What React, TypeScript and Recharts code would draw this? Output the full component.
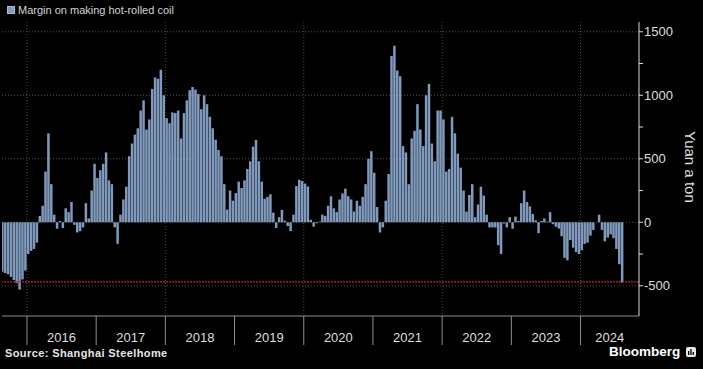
import { BarChart, Bar, XAxis, YAxis, CartesianGrid, ReferenceLine } from "recharts";

// Margin on making hot-rolled coil, yuan a ton, two readings a month
const margin2015 = [-390, -400, -410, -430, -455, -480, -530, -450, -380];
const margin2016 = [
  -250, -225, -210, -160, 50, 130, 400, 700, 300, 60, -50, 10,
  -45, 110, 80, 160, -20, -80, -70, -40, 150, 30, 250, 460,
];
const margin2017 = [
  350, 410, 460, 550, 330, 300, -40, -170, 60, 180, 280, 520,
  620, 690, 740, 880, 960, 730, 810, 1050, 1140, 1130, 1200, 1000,
];
const margin2018 = [
  820, 780, 865, 860, 880, 660, 860, 960, 1040, 1065, 1045, 1010,
  890, 1000, 930, 830, 740, 650, 570, 520, 300, 100, 250, 170,
];
const margin2019 = [
  230, 320, 270, 330, 420, 480, 596, 648, 480, 320, 185, 200,
  220, 76, -45, 40, 97, 13, -30, -70, 60, 285, 335, 325,
];
const margin2020 = [
  305, 282, 20, -34, -8, 5, 60, 50, 130, 205, 110, 80,
  180, 228, 265, 205, 180, 85, 170, 130, 200, 300, 500, 560,
];
const margin2021 = [
  390, 120, -80, -40, 170, 380, 1310, 1390, 1195, 1150, 600, 550,
  300, 660, 720, 930, 730, 600, 1000, 1090, 620, 480, 880, 880,
];
const margin2022 = [
  810, 400, 420, 830, 700, 540, 430, 250, 85, 215, 300, 40,
  140, 280, 210, 60, -40, -40, -40, -180, -250, -10, -40, 40,
];
const margin2023 = [
  -50, 45, 10, 150, 250, 160, 125, 65, 15, -85, 10, 30,
  5, 80, -15, -35, -50, -110, -280, -300, -140, -200, -235, -250,
];
const margin2024 = [-220, -170, -160, -105, -60, 0, 60, -60, -150, -120, -95, -125, -210, -330, -475];

const FIRST_PERIOD = 2015.646;
const PERIODS_PER_YEAR = 24;
const X_DOMAIN = [2015.639, 2024.845];
const LOW_MARK = -470;

const yearTicks = [2016, 2017, 2018, 2019, 2020, 2021, 2022, 2023, 2024];
const gridYears = [2016, 2018, 2020, 2022, 2024];
const yTicks = [-500, -250, 0, 250, 500, 750, 1000, 1250, 1500];
const gridValues = [-500, 0, 500, 1000, 1500];

const margins = [
  ...margin2015, ...margin2016, ...margin2017, ...margin2018, ...margin2019,
  ...margin2020, ...margin2021, ...margin2022, ...margin2023, ...margin2024,
];

const data = margins.map((v, i) => ({ t: FIRST_PERIOD + i / PERIODS_PER_YEAR, margin: v }));

const W = 703;
const H = 369;
const M = { top: 22, right: 24, left: 2, bottom: 22 };
const Y_AXIS_W = 40;
const PLOT_RIGHT = W - M.right - Y_AXIS_W;
const PX_PER_YEAR = (PLOT_RIGHT - M.left) / (X_DOMAIN[1] - X_DOMAIN[0]);

const BAR = "#809abd";
const GRID = "#4d4d4d";

// separator line at each year start, year label centred in the visible part of that year
function YearTick(props: any) {
  const { x, y, payload } = props;
  const span = Math.min(PX_PER_YEAR, PLOT_RIGHT - x);
  return (
    <g>
      <line x1={x} y1={y} x2={x} y2={y + 29} stroke="#8f8f8f" />
      <text x={x + span / 2} y={y + 26} textAnchor="middle" fill="#dedede" fontSize={13}>
        {payload.value}
      </text>
    </g>
  );
}

export default function App() {
  return (
    <div
      style={{
        position: "relative",
        width: W,
        height: H,
        background: "#000",
        fontFamily: "'Liberation Sans', Arial, sans-serif",
        overflow: "hidden",
      }}
    >
      <style>{`body{margin:0;background:#000}`}</style>
      <div style={{ position: "absolute", left: 7, top: 4, display: "flex", alignItems: "center", gap: 3 }}>
        <div style={{ width: 6, height: 6, background: BAR, border: "1px solid #a9bcd6" }} />
        <span style={{ color: "#d4d4d4", fontSize: 11 }}>Margin on making hot-rolled coil</span>
      </div>
      <BarChart width={W} height={H} data={data} margin={M}>
        <CartesianGrid
          stroke={GRID}
          strokeDasharray="1 2"
          horizontalValues={gridValues}
          verticalValues={gridYears}
        />
        <XAxis
          dataKey="t"
          type="number"
          domain={X_DOMAIN}
          allowDataOverflow
          ticks={yearTicks}
          interval={0}
          height={31}
          tickSize={0}
          tickMargin={0}
          tickLine={false}
          axisLine={{ stroke: "#8f8f8f" }}
          tick={<YearTick />}
        />
        <YAxis
          orientation="right"
          width={Y_AXIS_W}
          domain={[-738, 1577]}
          allowDataOverflow
          ticks={yTicks}
          interval={0}
          tickSize={4}
          tickMargin={1}
          tickFormatter={(v: number) => (v % 500 === 0 ? String(v) : "")}
          axisLine={{ stroke: "#d9d9d9" }}
          tickLine={{ stroke: "#d9d9d9" }}
          tick={{ fill: "#dedede", fontSize: 13 }}
        />
        <Bar dataKey="margin" fill={BAR} barSize={2.5} isAnimationActive={false} />
        <ReferenceLine y={LOW_MARK} stroke="#c8202f" strokeDasharray="2 1" strokeWidth={1.2} />
      </BarChart>
      <div
        style={{
          position: "absolute",
          left: 682,
          top: 131,
          writingMode: "vertical-rl",
          color: "#dedede",
          fontSize: 15,
        }}
      >
        Yuan a ton
      </div>
      <div
        style={{
          position: "absolute",
          left: 5,
          top: 347,
          color: "#e6e6e6",
          fontSize: 11,
          fontWeight: 700,
          letterSpacing: 0.4,
        }}
      >
        Source: Shanghai Steelhome
      </div>
      <div
        style={{
          position: "absolute",
          left: 609,
          top: 344,
          color: "#fff",
          fontSize: 13.5,
          fontWeight: 700,
          display: "flex",
          alignItems: "center",
          gap: 6,
        }}
      >
        <span>Bloomberg</span>
        <svg width={10} height={10}>
          <rect x={0} y={0} width={10} height={10} rx={2} fill="#e8e8e8" />
          <rect x={2} y={4} width={1.3} height={4} fill="#000" />
          <rect x={4.3} y={2} width={1.3} height={6} fill="#000" />
          <rect x={6.6} y={5} width={1.3} height={3} fill="#000" />
        </svg>
      </div>
    </div>
  );
}
